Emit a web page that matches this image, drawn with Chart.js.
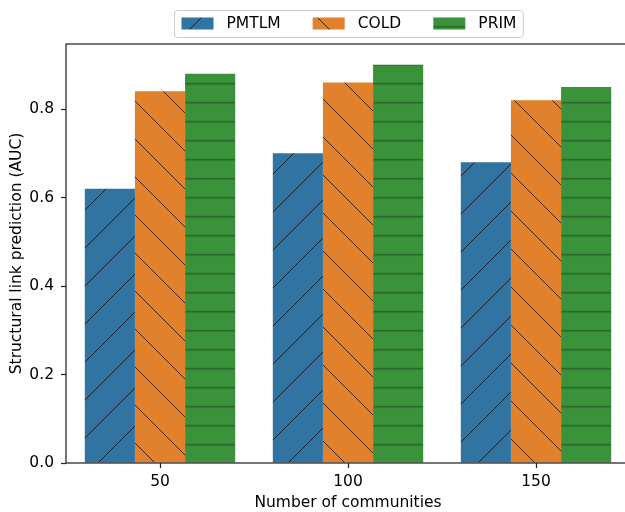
<!DOCTYPE html>
<html>
<head>
<meta charset="utf-8">
<script src="https://cdn.jsdelivr.net/npm/chart.js@4.4.1/dist/chart.umd.min.js"></script>
<style>
  html, body { margin: 0; padding: 0; background: #fff; overflow: hidden; }
  #wrap { width: 640px; height: 512px; }
</style>
</head>
<body>
<div id="wrap"><canvas id="chart" width="640" height="512"></canvas></div>
<script>
const categories = ['50', '100', '150'];
const pmtlm = [0.62, 0.70, 0.68];
const cold = [0.84, 0.86, 0.82];
const prim = [0.88, 0.90, 0.85];
const yTicks = [0, 0.2, 0.4, 0.6, 0.8];

const FONT = "'DejaVu Sans', sans-serif";
const FONT_SIZE = 15.5;
const INK = '#262626';

// hatch fill like matplotlib's '/', '\' and '-'
function makeHatch(bg, kind) {
  const size = kind === '-' ? 19 : 38;
  const tile = document.createElement('canvas');
  tile.width = size;
  tile.height = size;
  const g = tile.getContext('2d');
  g.fillStyle = bg;
  g.fillRect(0, 0, size, size);
  g.lineWidth = 1;
  g.strokeStyle = 'rgba(0,0,0,0.7)';
  g.beginPath();
  if (kind === '/') {
    g.moveTo(0, size); g.lineTo(size, 0);
    g.moveTo(-2, 2); g.lineTo(2, -2);
    g.moveTo(size - 2, size + 2); g.lineTo(size + 2, size - 2);
  } else if (kind === '\\') {
    g.moveTo(0, 0); g.lineTo(size, size);
    g.moveTo(-2, size - 2); g.lineTo(2, size + 2);
    g.moveTo(size - 2, -2); g.lineTo(size + 2, 2);
  } else {
    g.strokeStyle = 'rgba(0,0,0,0.35)';
    g.lineWidth = 1.4;
    g.moveTo(0, 9.5); g.lineTo(size, 9.5);
  }
  g.stroke();
  const pattern = g.createPattern(tile, 'repeat');
  const shift = { '/': [29, 0], '\\': [34, 0], '-': [0, -1.8] }[kind];
  if (pattern.setTransform) {
    pattern.setTransform(new DOMMatrix().translate(shift[0], shift[1]));
  }
  return pattern;
}

const frameAndLegend = {
  id: 'frameAndLegend',
  afterDraw(chart) {
    const { ctx, chartArea } = chart;
    ctx.save();

    // spines
    ctx.strokeStyle = INK;
    ctx.lineWidth = 1.25;
    ctx.strokeRect(chartArea.left, chartArea.top, chartArea.right - chartArea.left, chartArea.bottom - chartArea.top);

    // legend box above the axes
    ctx.font = FONT_SIZE + 'px ' + FONT;
    const items = chart.data.datasets.map(ds => ({ label: ds.label, fill: ds.backgroundColor, w: ctx.measureText(ds.label).width }));
    const pad = 7, patchW = 32, patchH = 12, textGap = 13, itemGap = 32;
    let total = pad * 2;
    items.forEach((it, i) => { total += patchW + textGap + it.w + (i < items.length - 1 ? itemGap : 0); });
    const cx = (chartArea.left + chartArea.right) / 2;
    const bx = Math.round(cx - total / 2) + 0.5;
    const by = 10.5, bh = 27;

    ctx.beginPath();
    ctx.roundRect(bx, by, total, bh, 3);
    ctx.fillStyle = 'rgba(255,255,255,0.8)';
    ctx.fill();
    ctx.strokeStyle = '#cccccc';
    ctx.lineWidth = 1;
    ctx.stroke();

    let x = bx + pad;
    ctx.textBaseline = 'middle';
    ctx.textAlign = 'left';
    items.forEach(it => {
      ctx.fillStyle = it.fill;
      ctx.fillRect(x, 17.5, patchW, patchH);
      ctx.fillStyle = '#000';
      ctx.fillText(it.label, x + patchW + textGap, 24);
      x += patchW + textGap + it.w + itemGap;
    });

    ctx.restore();
  }
};

new Chart(document.getElementById('chart'), {
  type: 'bar',
  data: {
    labels: categories,
    datasets: [
      { label: 'PMTLM', data: pmtlm, backgroundColor: makeHatch('#3274a1', '/') },
      { label: 'COLD', data: cold, backgroundColor: makeHatch('#e1812c', '\\') },
      { label: 'PRIM', data: prim, backgroundColor: makeHatch('#3a923a', '-') }
    ]
  },
  options: {
    responsive: false,
    animation: false,
    layout: { padding: { top: 44, right: 10, left: 0, bottom: 0 } },
    datasets: {
      bar: { categoryPercentage: 0.8, barPercentage: 1.0, borderWidth: 0 }
    },
    scales: {
      x: {
        offset: true,
        grid: { offset: false, drawOnChartArea: false, drawTicks: true, tickLength: 5, tickColor: INK, tickWidth: 1.25 },
        border: { display: false },
        ticks: { color: '#000', font: { family: FONT, size: FONT_SIZE }, padding: 5 },
        title: { display: true, text: 'Number of communities', color: '#000', font: { family: FONT, size: FONT_SIZE }, padding: { top: 0, bottom: 0 } },
        afterFit(scale) { scale.height = 49; }
      },
      y: {
        min: 0,
        max: 0.947,
        afterBuildTicks(scale) { scale.ticks = yTicks.map(v => ({ value: v })); },
        grid: { drawOnChartArea: false, drawTicks: true, tickLength: 5, tickColor: INK, tickWidth: 1.25 },
        border: { display: false },
        ticks: { color: '#000', font: { family: FONT, size: FONT_SIZE }, padding: 7, callback: v => v.toFixed(1) },
        title: { display: true, text: 'Structural link prediction (AUC)', color: '#000', font: { family: FONT, size: FONT_SIZE }, padding: { top: 8, bottom: 0 } },
        afterFit(scale) { scale.width = 66; }
      }
    },
    plugins: {
      legend: { display: false },
      tooltip: { enabled: false }
    }
  },
  plugins: [frameAndLegend]
});
</script>
</body>
</html>
